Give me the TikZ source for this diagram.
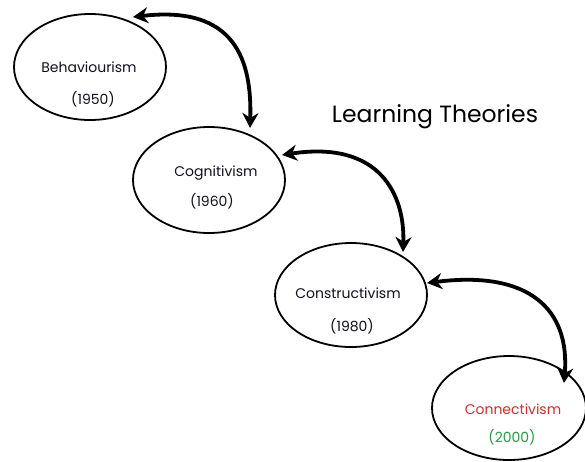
\documentclass[tikz,border=0pt]{standalone}
\usepackage{fontspec}
\setmainfont{Poppins}
\usetikzlibrary{arrows.meta}
\definecolor{txt}{HTML}{101020}
\definecolor{redc}{HTML}{E02828}
\definecolor{greenc}{HTML}{22A040}
\begin{document}
\begin{tikzpicture}[x=1pt,y=-1pt,
  lbl/.style={font=\fontsize{14}{16}\selectfont, text=txt, inner sep=0pt},
  link/.style={line width=3.8pt, {Stealth[length=15pt,width=16pt]}-{Stealth[length=15pt,width=16pt]}}]
\useasboundingbox (0,0) rectangle (585,461);
\fill[white] (0,0) rectangle (585,461);
\draw[line width=1.8pt] (90,67) ellipse [x radius=76, y radius=53];
\draw[line width=1.8pt] (209,180) ellipse [x radius=76, y radius=53];
\draw[line width=1.8pt] (351,295) ellipse [x radius=76, y radius=52];
\draw[line width=1.8pt] (509,408) ellipse [x radius=77, y radius=52];
\node[lbl] (b1) at (89,67) {Behaviourism};
\node[lbl] (b2) at (93,99) {(1950)};
\node[lbl] (c1) at (216,173) {Cognitivism};
\node[lbl] (c2) at (212,201) {(1960)};
\node[lbl] (k1) at (348,293) {Constructivism};
\node[lbl] (k2) at (352,326) {(1980)};
\node[lbl, text=redc] (n1) at (513,409) {Connectivism};
\node[lbl, text=greenc] (n2) at (512,437) {(2000)};
\node[font=\fontsize{23.5}{26}\selectfont, inner sep=0pt] (title) at (435,117) {Learning Theories};
\coordinate (a1s) at (133,17);
\coordinate (a1e) at (250,128);
\coordinate (a2s) at (282,155);
\coordinate (a2e) at (403,252);
\coordinate (a3s) at (427,283);
\coordinate (a3e) at (564,383);
\draw[link] (a1s) .. controls (235,5) and (252,60) .. (a1e);
\draw[link] (a2s) .. controls (380,140) and (405,195) .. (a2e);
\draw[link] (a3s) .. controls (530,270) and (570,310) .. (a3e);
\end{tikzpicture}
\end{document}
